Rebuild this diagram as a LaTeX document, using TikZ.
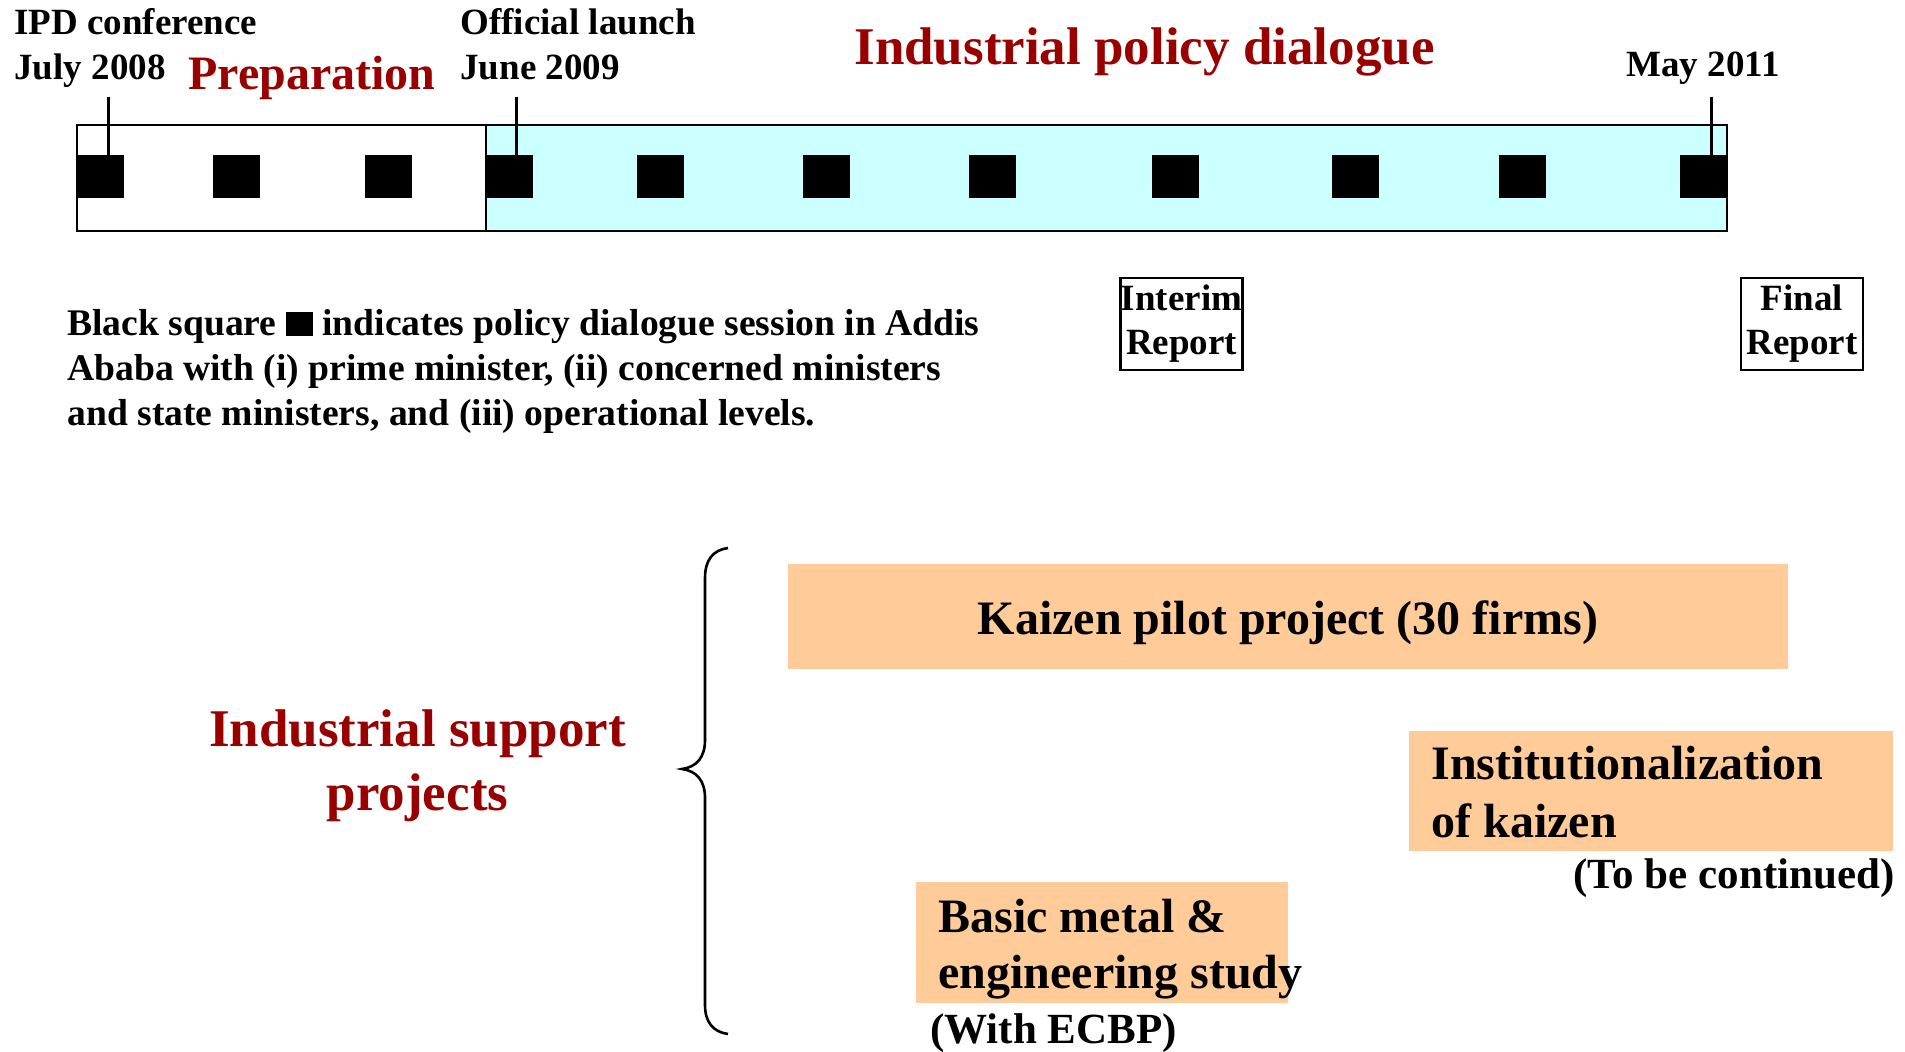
\documentclass[tikz,border=0pt]{standalone}
\usepackage{fontspec}
\setmainfont{Liberation Serif}
\definecolor{dlgred}{RGB}{153,0,0}
\definecolor{dlgcyan}{RGB}{204,255,255}
\definecolor{projorange}{RGB}{255,204,153}

\begin{document}
\begin{tikzpicture}[x=0.5pt,y=0.5pt,yscale=-1,xscale=1,
  lbl/.style={font=\fontsize{18.5}{22.5}\selectfont\bfseries,inner sep=0pt,anchor=base west},
  legendtxt/.style={font=\fontsize{18.8}{22.5}\selectfont\bfseries,inner sep=0pt,anchor=base west},
  redlbl/.style={font=\fontsize{26.5}{31.5}\selectfont\bfseries,text=dlgred,inner sep=0pt},
  projtxt/.style={font=\fontsize{24}{28}\selectfont\bfseries,inner sep=0pt,anchor=base west},
  note/.style={font=\fontsize{21.5}{25}\selectfont\bfseries,inner sep=0pt,anchor=base west},
  session/.style={fill=black,minimum width=23.5pt,minimum height=21.5pt,inner sep=0pt},
  report/.style={draw,line width=1.2pt,minimum width=61pt,minimum height=46pt,inner sep=0pt,align=center,
    font=\fontsize{18.5}{22}\selectfont\bfseries},
  tick/.style={line width=1.5pt}]
\useasboundingbox (0,0) rectangle (1905,1052);

% Shape: Rectangle
\draw  [line width=1.4pt] (77,125) rectangle (486,231) ;
% Shape: Rectangle
\draw  [line width=1.4pt][fill=dlgcyan] (486,125) rectangle (1727,231) ;
% Shape: Square
\foreach \x [count=\i] in {100.5,236,388,509,660,826.5,992.5,1175,1355.5,1522,1703.5}
  \node [session] (s\i) at (\x,176.5) {};

% Straight Lines
\coordinate (t1) at (108,97);
\coordinate (t4) at (516.5,97);
\coordinate (t11) at (1711,97);
\draw  [tick] (t1) -- (t1 |- s1.north) ;
\draw  [tick] (t4) -- (t4 |- s4.north) ;
\draw  [tick] (t11) -- (t11 |- s11.north) ;

\draw (14,35) node [lbl] (ipd1) {IPD conference};
\draw (14,80) node [lbl] (ipd2) {July 2008};
\draw (460,35) node [lbl] (launch1) {Official launch};
\draw (460,80) node [lbl] (launch2) {June 2009};
\draw (1626,77) node [lbl] (may) {May 2011};
\draw (188,90) node [redlbl,font=\fontsize{24}{28}\selectfont\bfseries,anchor=base west] (prep) {Preparation};
\draw (854,65) node [redlbl,anchor=base west] (dialogue) {Industrial policy dialogue};

\draw (1181.5,324) node [report] (interim) {Interim\\Report};
\draw (1802,324) node [report] (final) {Final\\Report};

\draw (67,336) node [legendtxt] (legend1) {Black square \rule{13.5pt}{12pt} indicates policy dialogue session in Addis};
\draw (67,381) node [legendtxt] (legend2) {Ababa with (i) prime minister, (ii) concerned ministers};
\draw (67,426) node [legendtxt] (legend3) {and state ministers, and (iii) operational levels.};

\draw (417.5,747) node [redlbl,anchor=base] (support1) {Industrial support};
\draw (417.5,810) node [redlbl,anchor=base] (support2) {projects};

% Curve Lines
\draw  [line width=1.3pt]  (728,548) .. controls (713,550) and (705,560) .. (705,578) -- (705,740) .. controls (705,757) and (697,767) .. (682,769) .. controls (697,771) and (705,781) .. (705,798) -- (705,1005) .. controls (705,1022) and (713,1032) .. (728,1034) ;

% Shape: Rectangle
\fill  [projorange] (788,564) rectangle (1788,669) ;
\fill  [projorange] (1409,731) rectangle (1893,851) ;
\fill  [projorange] (916,882) rectangle (1288,1003) ;

\draw (1288,635) node [projtxt,anchor=base] (kaizen) {Kaizen pilot project (30 firms)};
\draw (1431,779) node [projtxt] (inst1) {Institutionalization};
\draw (1431,837) node [projtxt] (inst2) {of kaizen};
\draw (1895,888) node [note,anchor=base east] (cont) {(To be continued)};
\draw (938,932) node [projtxt] (basic1) {Basic metal \&};
\draw (938,988) node [projtxt] (basic2) {engineering study};
\draw (930,1043) node [note] (ecbp) {(With ECBP)};

\end{tikzpicture}
\end{document}
